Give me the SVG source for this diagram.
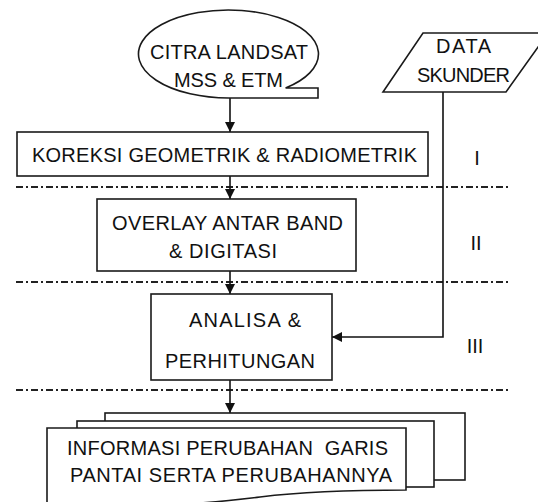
<svg xmlns="http://www.w3.org/2000/svg" width="538" height="502" viewBox="0 0 538 502">
  <style>
    .shape { fill: #ffffff; stroke: #1a1a1a; stroke-width: 1.6; }
    .txt { font-family: "Liberation Sans", Arial, sans-serif; font-size: 20px; fill: #111111; }
    .mid { text-anchor: middle; }
    .conn { fill: none; stroke: #111111; stroke-width: 1.6; }
    .phase { fill: none; stroke: #222222; stroke-width: 1.8; stroke-dasharray: 7 3 2 3; }
  </style>
  <defs>
    <marker id="arrow" markerWidth="10" markerHeight="10" refX="10" refY="5" orient="auto" markerUnits="userSpaceOnUse">
      <path d="M0,0 L10,5 L0,10 Z" fill="#111111"/>
    </marker>
  </defs>

  <rect width="538" height="502" fill="#ffffff"/>

  <!-- phase separators -->
  <g id="separators">
    <line class="phase" x1="16" y1="187" x2="510" y2="187"/>
    <line class="phase" x1="16" y1="282" x2="510" y2="282"/>
    <line class="phase" x1="16" y1="390" x2="510" y2="390"/>
  </g>

  <!-- phase labels -->
  <g id="phase-labels">
    <text class="txt mid" x="477" y="165">I</text>
    <text class="txt mid" x="476" y="250">II</text>
    <text class="txt mid" x="475" y="353">III</text>
  </g>

  <!-- connectors -->
  <g id="connectors">
    <line class="conn" x1="230" y1="98" x2="230" y2="132" marker-end="url(#arrow)"/>
    <line class="conn" x1="230" y1="176" x2="230" y2="199" marker-end="url(#arrow)"/>
    <line class="conn" x1="230" y1="271" x2="230" y2="294" marker-end="url(#arrow)"/>
    <line class="conn" x1="230" y1="380" x2="230" y2="413" marker-end="url(#arrow)"/>
    <path class="conn" d="M443,92 V337 H332" marker-end="url(#arrow)"/>
  </g>

  <!-- source imagery: rounded callout with a tab at the lower right -->
  <g id="citra-landsat">
    <path class="shape" d="M228.5,98 A90 44 0 1 1 285.6,88 L318,88 L318,98 Z"/>
    <text class="txt" x="150" y="59" textLength="158">CITRA LANDSAT</text>
    <text class="txt" x="174" y="87" textLength="109">MSS &amp; ETM</text>
  </g>

  <!-- secondary data -->
  <g id="data-skunder">
    <path class="shape" d="M423,33 L548,33 L506,92 L383,92 Z"/>
    <text class="txt" x="436" y="53" textLength="55">DATA</text>
    <text class="txt" x="417" y="82" textLength="93">SKUNDER</text>
  </g>

  <g id="koreksi">
    <rect class="shape" x="17" y="132" width="411" height="44"/>
    <text class="txt" x="32" y="162" textLength="385">KOREKSI GEOMETRIK &amp; RADIOMETRIK</text>
  </g>

  <g id="overlay">
    <rect class="shape" x="97" y="199" width="259" height="72"/>
    <text class="txt" x="112" y="230" textLength="231">OVERLAY ANTAR BAND</text>
    <text class="txt" x="169" y="258" textLength="108">&amp; DIGITASI</text>
  </g>

  <g id="analisa">
    <rect class="shape" x="151" y="294" width="181" height="86"/>
    <text class="txt" x="189" y="327" textLength="112">ANALISA &amp;</text>
    <text class="txt" x="165" y="368" textLength="150">PERHITUNGAN</text>
  </g>

  <!-- output documents -->
  <g id="informasi">
    <rect class="shape" x="105" y="413" width="360" height="67"/>
    <rect class="shape" x="77" y="421" width="357" height="66"/>
    <path class="shape" d="M47,428 H406 V490 C360,490 300,492 260,497 C220,502 190,505 150,505 H47 Z"/>
    <text class="txt" x="67" y="455" textLength="321" xml:space="preserve">INFORMASI PERUBAHAN  GARIS</text>
    <text class="txt" x="70" y="482" textLength="322">PANTAI SERTA PERUBAHANNYA</text>
  </g>
</svg>
